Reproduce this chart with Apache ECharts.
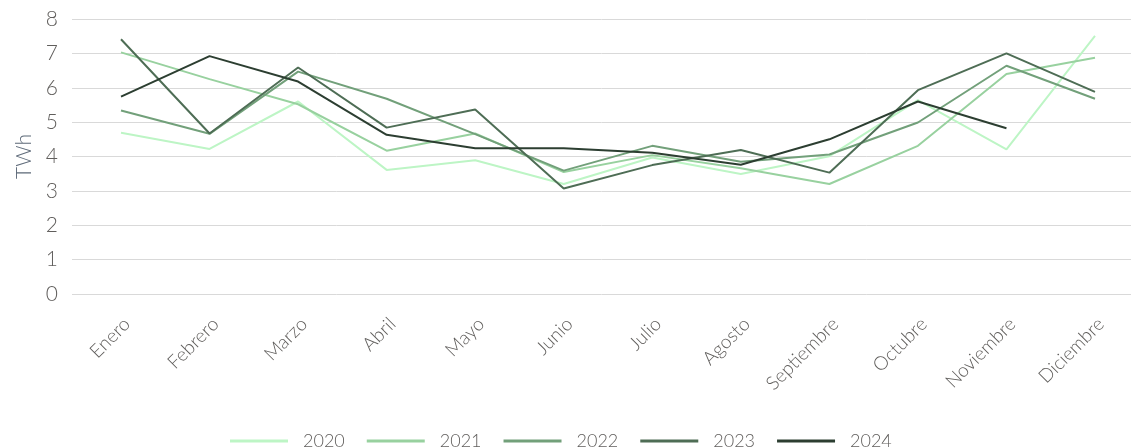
<!DOCTYPE html>
<html>
<head>
<meta charset="utf-8">
<script src="https://cdn.jsdelivr.net/npm/echarts@6/dist/echarts.min.js"></script>
<style>
html, body { margin: 0; padding: 0; background: #fff; }
#mybox { width: 1131px; height: 447px; }
</style>
</head>
<body>
<div id="mybox"></div>
<script>
// datos
var meses = ['Enero', 'Febrero', 'Marzo', 'Abril', 'Mayo', 'Junio', 'Julio', 'Agosto', 'Septiembre', 'Octubre', 'Noviembre', 'Diciembre'];
var anios = ['2020', '2021', '2022', '2023', '2024'];
var v2020 = [4.69, 4.22, 5.60, 3.61, 3.89, 3.20, 3.97, 3.49, 4.01, 5.64, 4.21, 7.51];
var v2021 = [7.03, 6.25, 5.52, 4.17, 4.67, 3.55, 4.04, 3.66, 3.20, 4.31, 6.40, 6.87];
var v2022 = [5.34, 4.66, 6.47, 5.68, 4.65, 3.59, 4.31, 3.85, 4.06, 4.99, 6.64, 5.68];
var v2023 = [7.41, 4.67, 6.59, 4.84, 5.37, 3.07, 3.75, 4.19, 3.53, 5.93, 7.00, 5.88];
var v2024 = [5.74, 6.92, 6.18, 4.63, 4.24, 4.24, 4.11, 3.76, 4.50, 5.60, 4.82, null];
var colores = ['#bdf5c5', '#98d19f', '#72a07a', '#4e6d55', '#2c3e31'];

var mycharts = echarts.init(document.getElementById('mybox'));

var valores = [v2020, v2021, v2022, v2023, v2024];
var series = [];
for (var i = 0; i < anios.length; i++) {
    series.push({
        name: anios[i],
        type: 'line',
        xAxisIndex: 1,
        yAxisIndex: 1,
        data: valores[i],
        symbol: 'none',
        lineStyle: { width: 2, color: colores[i] },
        itemStyle: { color: colores[i] }
    });
}

var optionObj = {
    animation: false,
    textStyle: { fontFamily: 'Lato', fontWeight: 300 },
    legend: {
        top: 427,
        left: 225,
        itemWidth: 58,
        itemHeight: 3,
        itemGap: 22,
        icon: 'rect',
        textStyle: { fontSize: 18, color: '#605e5c', fontWeight: 300, width: 44, padding: [0, 0, 0, 10] },
        data: anios
    },
    grid: [
        { left: 72, right: 0, top: 19, bottom: 153 },
        { left: 121, right: 36, top: 19, bottom: 153 },
        // solo para las etiquetas del eje x, algo desplazadas
        { left: 127, right: 30, top: 19, bottom: 153 }
    ],
    xAxis: [
        { gridIndex: 0, type: 'category', data: meses, show: false },
        { gridIndex: 1, type: 'category', data: meses, boundaryGap: false, show: false },
        {
            gridIndex: 2,
            type: 'category',
            data: meses,
            boundaryGap: false,
            axisLine: { show: false },
            axisTick: { show: false },
            splitLine: { show: false },
            axisLabel: { rotate: 45, margin: 27, fontSize: 19, fontWeight: 300, color: '#605e5c', interval: 0 }
        }
    ],
    yAxis: [
        {
            gridIndex: 0,
            type: 'value',
            min: 0,
            max: 8,
            interval: 1,
            name: 'TWh',
            nameLocation: 'middle',
            nameGap: 32,
            nameTextStyle: { fontSize: 21, color: '#5f6b7a', fontWeight: 300 },
            axisLine: { show: false },
            axisTick: { show: false },
            axisLabel: { fontSize: 21, color: '#605e5c', fontWeight: 300, margin: 14 },
            splitLine: { lineStyle: { color: '#d9d9d9', width: 1 } }
        },
        { gridIndex: 1, type: 'value', min: 0, max: 8, interval: 1, show: false },
        { gridIndex: 2, type: 'value', min: 0, max: 8, interval: 1, show: false }
    ],
    series: series
};

mycharts.setOption(optionObj);
</script>
</body>
</html>
